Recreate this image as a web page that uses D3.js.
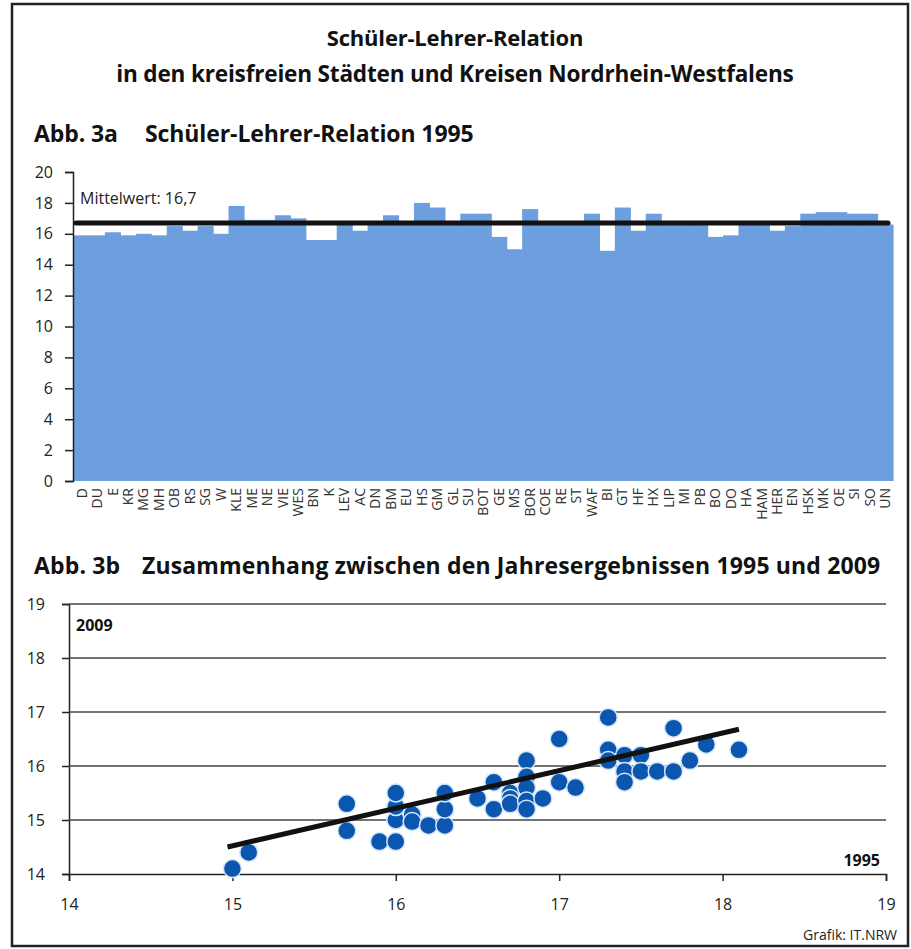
<!DOCTYPE html>
<html>
<head>
<meta charset="utf-8">
<script src="https://cdn.jsdelivr.net/npm/d3@7"></script>
<style>
  body { margin: 0; background: #fff; }
  svg { display: block; font-family: "Open Sans", "Noto Sans", sans-serif; }
</style>
</head>
<body>
<div class="chart"></div>
<script>
// Abb. 3a: Schüler je Lehrer 1995, je Kreis / kreisfreie Stadt
const districts = ['D','DU','E','KR','MG','MH','OB','RS','SG','W','KLE','ME','NE','VIE','WES','BN','K','LEV','AC','DN','BM','EU','HS','GM','GL','SU','BOT','GE','MS','BOR','COE','RE','ST','WAF','BI','GT','HF','HX','LIP','MI','PB','BO','DO','HA','HAM','HER','EN','HSK','MK','OE','SI','SO','UN']
const ratio1995 = [15.9,15.9,16.1,15.9,16.0,15.9,16.5,16.2,16.5,16.0,17.8,16.9,16.9,17.2,17.0,15.6,15.6,16.6,16.2,16.6,17.2,16.6,18.0,17.7,16.6,17.3,17.3,15.8,15.0,17.6,16.8,16.7,16.6,17.3,14.9,17.7,16.2,17.3,16.6,16.6,16.6,15.8,15.9,16.6,16.6,16.2,16.5,17.3,17.4,17.4,17.3,17.3,16.6]
const meanValue = 16.7
const barTicks = [0,2,4,6,8,10,12,14,16,18,20]

// Abb. 3b: 1995 gegen 2009
const scatterX = [15.0,15.1,15.7,15.7,15.9,16.0,16.0,16.0,16.0,16.1,16.1,16.2,16.3,16.3,16.3,16.5,16.6,16.6,16.7,16.7,16.7,16.8,16.8,16.8,16.8,16.8,16.9,17.0,17.0,17.1,17.3,17.3,17.3,17.4,17.4,17.4,17.5,17.5,17.6,17.7,17.7,17.8,17.9,18.1]
const scatterY = [14.1,14.4,15.3,14.8,14.6,14.6,15.0,15.25,15.5,15.1,14.97,14.9,14.9,15.2,15.5,15.4,15.7,15.2,15.5,15.4,15.3,16.1,15.8,15.6,15.35,15.2,15.4,15.7,16.5,15.6,16.9,16.3,16.1,16.2,15.9,15.7,16.2,15.9,15.9,15.9,16.7,16.1,16.4,16.3]
const trendX = [14.97, 18.1]
const trendY = [14.5, 16.68]
const scatterTicks = [14,15,16,17,18,19]

const W = 911, H = 949;
const font = '"Open Sans", "Noto Sans", sans-serif';

const svg = d3.select('.chart').append('svg')
  .attr('width', W)
  .attr('height', H);

// frame
svg.append('rect')
  .attr('x', 12).attr('y', 4)
  .attr('width', 896).attr('height', 942)
  .attr('fill', '#fff')
  .attr('stroke', '#222')
  .attr('stroke-width', 2.5);

svg.append('text')
  .attr('x', 455).attr('y', 46)
  .attr('text-anchor', 'middle')
  .attr('font-size', 22).attr('font-weight', 700)
  .attr('letter-spacing', -0.2)
  .attr('fill', '#111')
  .text('Schüler-Lehrer-Relation');

svg.append('text')
  .attr('x', 455).attr('y', 82)
  .attr('text-anchor', 'middle')
  .attr('font-size', 22.6).attr('font-weight', 700)
  .attr('letter-spacing', -0.2)
  .attr('fill', '#111')
  .text('in den kreisfreien Städten und Kreisen Nordrhein-Westfalens');

const sub3a = svg.append('text')
  .attr('y', 142)
  .attr('font-size', 23).attr('font-weight', 700)
  .attr('letter-spacing', -0.1)
  .attr('fill', '#111');
sub3a.append('tspan').attr('x', 34).text('Abb. 3a');
sub3a.append('tspan').attr('x', 145).text('Schüler-Lehrer-Relation 1995');

// ---- bar chart ----
let xBar = d3.scaleBand()
  .domain(districts)
  .range([74, 893])
  .padding(0);

let yBar = d3.scaleLinear()
  .domain([0, 20])
  .range([481, 172]);

svg.append('g')
  .selectAll('rect')
  .data(districts)
  .enter()
  .append('rect')
  .attr('x', d => xBar(d))
  .attr('width', xBar.bandwidth() + 0.6)
  .attr('y', (d, i) => yBar(ratio1995[i]))
  .attr('height', (d, i) => yBar(0) - yBar(ratio1995[i]))
  .attr('fill', '#6d9fdf');

const yAxisBar = svg.append('g')
  .attr('transform', 'translate(73,0)')
  .call(d3.axisLeft(yBar).tickValues(barTicks).tickSize(8).tickPadding(12));

yAxisBar.selectAll('.tick text')
  .attr('font-size', 16)
  .attr('fill', '#222')
  .attr('font-family', font);
yAxisBar.selectAll('line, path').attr('stroke', '#222').attr('stroke-width', 1.5);

const xAxisBar = svg.append('g')
  .attr('transform', 'translate(0,481)')
  .call(d3.axisBottom(xBar).tickSize(0).tickPadding(0));

xAxisBar.select('.domain').remove();
xAxisBar.selectAll('.tick text')
  .attr('font-size', 14)
  .attr('fill', '#333')
  .attr('font-family', font)
  .attr('text-anchor', 'end')
  .attr('dy', '0.35em')
  .attr('transform', 'translate(0,7) rotate(-90)');

// Mittelwert
svg.append('line')
  .attr('x1', 76).attr('x2', 888)
  .attr('y1', yBar(meanValue)).attr('y2', yBar(meanValue))
  .attr('stroke', '#111')
  .attr('stroke-width', 5)
  .attr('stroke-linecap', 'round');

svg.append('text')
  .attr('x', 80).attr('y', yBar(meanValue) - 19)
  .attr('font-size', 16)
  .attr('fill', '#222')
  .text('Mittelwert: 16,7');

// ---- scatter ----
const sub3b = svg.append('text')
  .attr('y', 574)
  .attr('font-size', 23).attr('font-weight', 700)
  .attr('letter-spacing', 0.15)
  .attr('fill', '#111');
sub3b.append('tspan').attr('x', 34).text('Abb. 3b');
sub3b.append('tspan').attr('x', 142).text('Zusammenhang zwischen den Jahresergebnissen 1995 und 2009');

let xSc = d3.scaleLinear().domain([14, 19]).range([69, 886]);
let ySc = d3.scaleLinear().domain([14, 19]).range([874, 604]);

const yAxisSc = svg.append('g')
  .attr('transform', 'translate(69,0)')
  .call(d3.axisLeft(ySc).tickValues(scatterTicks).tickFormat(d3.format('d')).tickSize(7).tickPadding(17));
yAxisSc.selectAll('.tick text')
  .attr('font-size', 16).attr('fill', '#222')
  .attr('font-family', font);
yAxisSc.selectAll('line, path').attr('stroke', '#222').attr('stroke-width', 1.5);

// gridlines
svg.append('g')
  .selectAll('line')
  .data(scatterTicks.slice(1))
  .enter()
  .append('line')
  .attr('x1', xSc(14)).attr('x2', xSc(19))
  .attr('y1', d => ySc(d)).attr('y2', d => ySc(d))
  .attr('stroke', '#444')
  .attr('stroke-width', 1.3);

const xAxisSc = svg.append('g')
  .attr('transform', 'translate(0,874)')
  .call(d3.axisBottom(xSc).tickValues(scatterTicks).tickFormat(d3.format('d')).tickSize(7).tickPadding(18));
xAxisSc.selectAll('.tick text')
  .attr('font-size', 16).attr('fill', '#222')
  .attr('font-family', font);
xAxisSc.selectAll('line, path').attr('stroke', '#222').attr('stroke-width', 1.5);

svg.append('g')
  .selectAll('circle')
  .data(scatterX)
  .enter()
  .append('circle')
  .attr('cx', d => xSc(d))
  .attr('cy', (d, i) => ySc(scatterY[i]))
  .attr('r', 9)
  .attr('fill', '#0b57b0')
  .attr('stroke', '#d6e6f7')
  .attr('stroke-width', 1.5);

let trend = d3.line()
  .x(d => xSc(d[0]))
  .y(d => ySc(d[1]));

svg.append('path')
  .datum(trendX.map((d, i) => [d, trendY[i]]))
  .attr('d', trend)
  .attr('stroke', '#111')
  .attr('stroke-width', 5)
  .attr('fill', 'none');

svg.append('text')
  .attr('x', 76).attr('y', 631)
  .attr('font-size', 16).attr('font-weight', 700)
  .attr('fill', '#111')
  .text('2009');

svg.append('text')
  .attr('x', 880).attr('y', 866)
  .attr('text-anchor', 'end')
  .attr('font-size', 16).attr('font-weight', 700)
  .attr('fill', '#111')
  .text('1995');

svg.append('text')
  .attr('x', 897).attr('y', 940)
  .attr('text-anchor', 'end')
  .attr('font-size', 14)
  .attr('fill', '#222')
  .text('Grafik: IT.NRW');
</script>
</body>
</html>
